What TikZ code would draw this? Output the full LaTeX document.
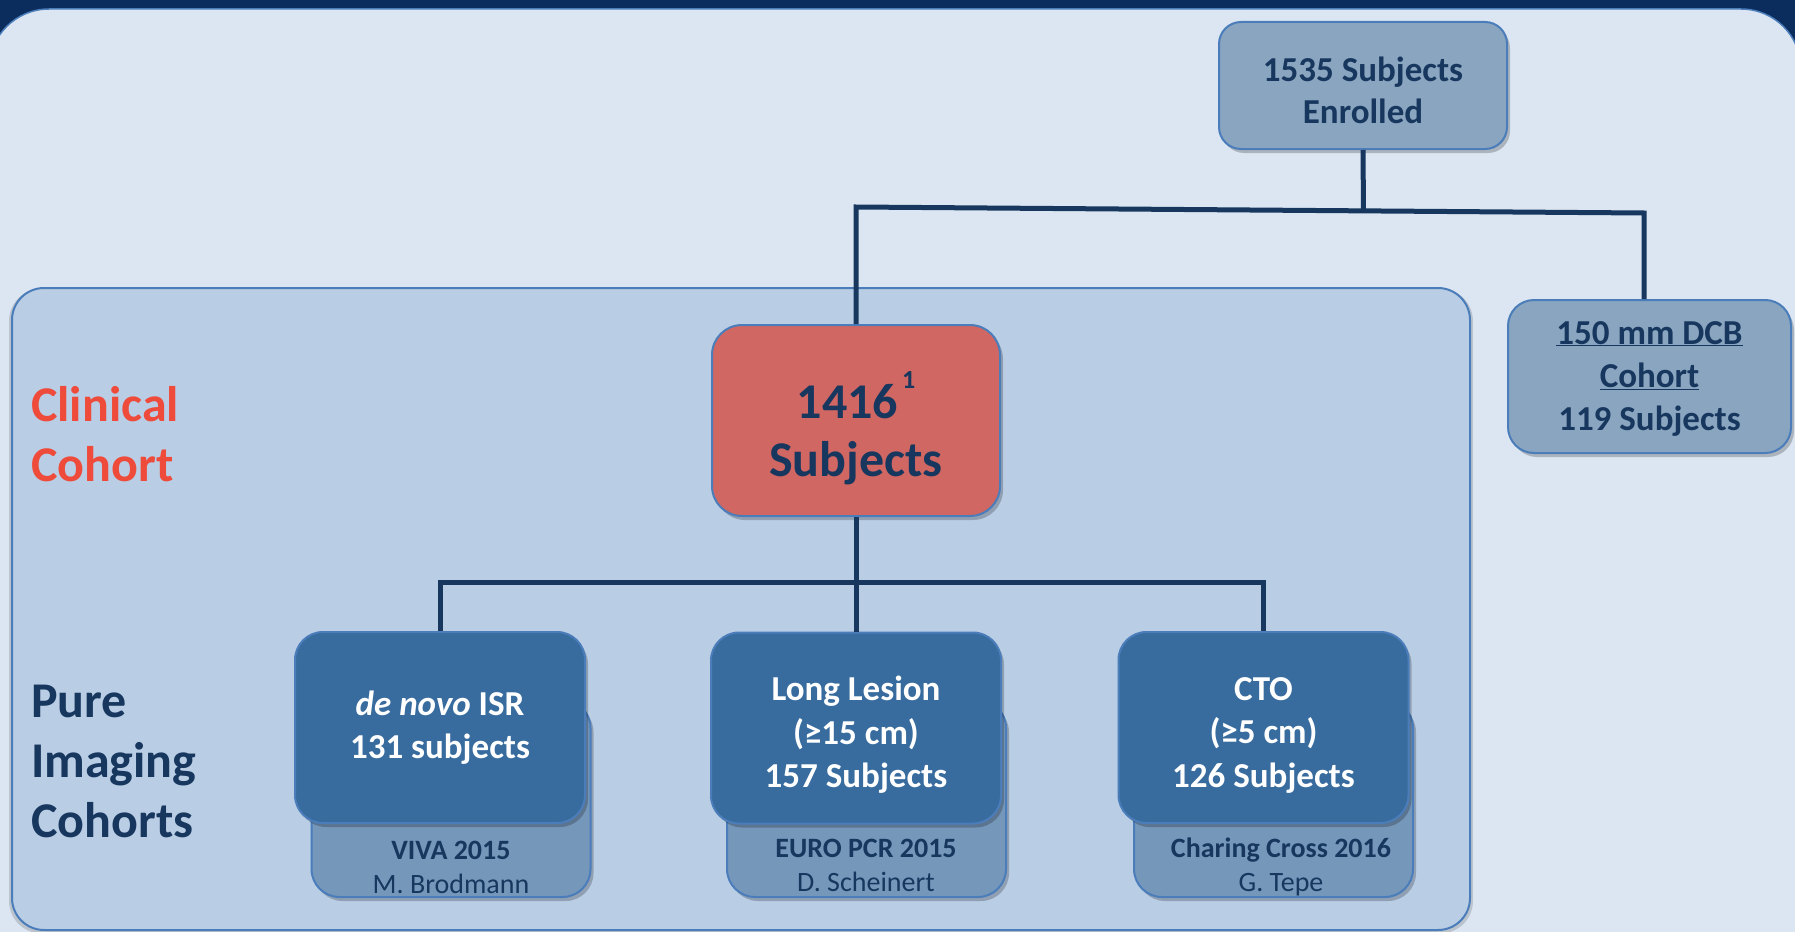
\documentclass[tikz,border=0pt]{standalone}
\usepackage{fontspec}
\setmainfont{Carlito}
\usetikzlibrary{shadows,calc}
\definecolor{navybg}{HTML}{0B2D5E}
\definecolor{panel}{HTML}{DCE6F2}
\definecolor{innerp}{HTML}{B9CDE5}
\definecolor{edgec}{HTML}{4A7DBA}
\definecolor{greybox}{HTML}{8AA5C0}
\definecolor{redbox}{HTML}{D06762}
\definecolor{bluebox}{HTML}{386C9E}
\definecolor{backbox}{HTML}{7597BA}
\definecolor{navytext}{HTML}{17375E}
\definecolor{redtext}{HTML}{EE4B3B}
\tikzset{
  shad/.style={drop shadow={shadow xshift=3pt,shadow yshift=-4pt,opacity=0.22,fill=black}},
  greynode/.style={draw=edgec,line width=2pt,fill=greybox,rounded corners=22pt,shad,
     text=navytext,font=\fontsize{35}{42}\selectfont\bfseries,align=center,inner sep=0pt},
  rednode/.style={draw=edgec,line width=2pt,fill=redbox,rounded corners=30pt,shad,
     text=navytext,font=\fontsize{50}{58}\selectfont\bfseries,align=center,inner sep=0pt,
     minimum width=288pt,minimum height=191pt},
  frontnode/.style={draw=edgec,line width=2pt,fill=bluebox,rounded corners=28pt,shad,
     text=white,font=\fontsize{35}{43.5}\selectfont\bfseries,align=center,inner sep=0pt,
     minimum width=290pt,minimum height=191pt},
  backnode/.style={draw=edgec,line width=2pt,fill=backbox,rounded corners=28pt,shad,
     inner sep=0pt,minimum width=279pt,minimum height=197pt},
  backtext/.style={text=navytext,font=\fontsize{28}{34}\selectfont,align=center,inner sep=0pt},
  sidetext/.style={anchor=west,inner sep=0pt,align=left,font=\fontsize{50}{60}\selectfont\bfseries},
  conn/.style={draw=navytext,line width=5pt}
}
\begin{document}
\begin{tikzpicture}[x=1pt,y=-1pt]
\useasboundingbox (0,0) rectangle (1795,931);
% backgrounds
\fill[navybg] (-5,-5) rectangle (1800,936);
\draw[draw=edgec,line width=1.5pt,fill=panel,rounded corners=60pt]
  (-11,9) rectangle (1801,1000);
\draw[draw=edgec,line width=2pt,fill=innerp,rounded corners=32pt,
  drop shadow={shadow scale=1.004,shadow xshift=0pt,shadow yshift=-2pt,opacity=0.15,fill=black}]
  (12,288) rectangle (1470,930);
% top level boxes
\node[greynode,minimum width=288pt,minimum height=127pt] (top) at (1363,85.5)
  {\rule{0pt}{34pt}1535 Subjects\\Enrolled};
\node[greynode,minimum width=283pt,minimum height=153pt,rounded corners=26pt,
  font=\fontsize{35}{43}\selectfont\bfseries] (dcb) at (1649.5,376.5)
  {\rule{0pt}{27pt}\underline{150 mm DCB}\\\underline{Cohort}\\119 Subjects};
\node[rednode] (red) at (856,420.5)
  {\rule{0pt}{62pt}1416\hspace{4pt}\smash{\raisebox{30pt}{\fontsize{26}{26}\selectfont 1}}\\Subjects};
% back boxes
\node[backnode] (back1) at (451,798.5) {};
\node[backnode] (back2) at (866.5,798.5) {};
\node[backnode] (back3) at (1273.5,798.5) {};
\node[backtext] (bt1) at (451,867) {\textbf{VIVA 2015}\\M. Brodmann};
\node[backtext] (bt2) at (866,865) {\textbf{EURO PCR 2015}\\D. Scheinert};
\node[backtext] (bt3) at (1281,867) {\textbf{Charing Cross 2016}\\G. Tepe};
% front boxes
\node[frontnode] (f1) at (440,727.5) {\textit{de novo} ISR\\131 subjects};
\node[frontnode] (f2) at (856,728) {\rule{0pt}{38.5pt}Long Lesion\\(≥15 cm)\\157 Subjects};
\node[frontnode] (f3) at (1263.5,727.5) {\rule{0pt}{38.5pt}CTO\\(≥5 cm)\\126 Subjects};
% side labels
\node[sidetext,text=redtext] (clin) at (31,434) {Clinical\\Cohort};
\node[sidetext,text=navytext] (pure) at (31,761) {Pure\\Imaging\\Cohorts};
% connectors
\coordinate (hl) at (856,207);
\coordinate (hr) at (1644,213);
\draw[conn] (red.north) -- (hl) -- (hr) -- (hr |- dcb.north);
\draw[conn] (top.south) -- ($(hl)!0.644!(hr)$);
\coordinate (bl) at (440,582);
\coordinate (br) at (1263.5,582);
\draw[conn] (f1.north) -- (bl) -- (br) -- (f3.north);
\draw[conn] (red.south) -- (f2.north);
\end{tikzpicture}
\end{document}
